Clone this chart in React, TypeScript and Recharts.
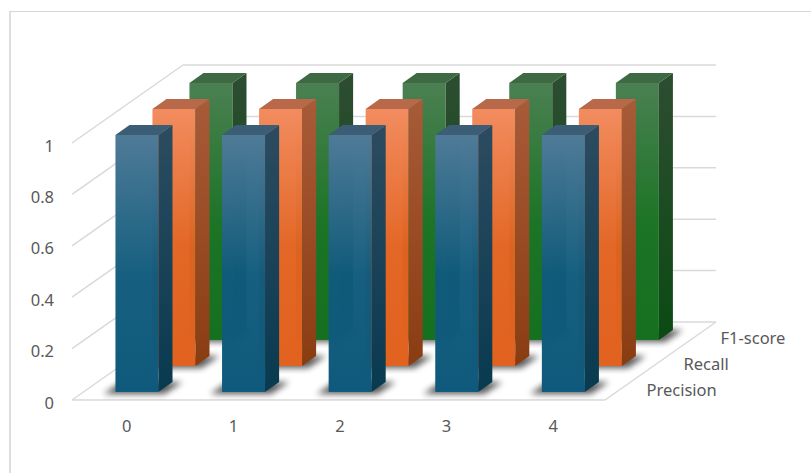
import React from "react";
import { BarChart, Bar, XAxis, YAxis, CartesianGrid } from "recharts";

const CLASSES = ["0", "1", "2", "3", "4"];
const SERIES = ["Precision", "Recall", "F1-score"];
const PRECISION = [1, 1, 1, 1, 1];
const RECALL = [1, 1, 1, 1, 1];
const F1_SCORE = [1, 1, 1, 1, 1];
const Y_TICKS = [0, 0.2, 0.4, 0.6, 0.8, 1];

const data = CLASSES.map((c, i) => ({
  name: c,
  Precision: PRECISION[i],
  Recall: RECALL[i],
  "F1-score": F1_SCORE[i],
}));

const W = 811;
const H = 473;
const MARGIN = { top: 143, right: 206, bottom: 0, left: 0 };
const Y_AXIS_W = 72;
const X_AXIS_H = 73;
const PLOT_LEFT = MARGIN.left + Y_AXIS_W;
const PLOT_BOTTOM = H - MARGIN.bottom - X_AXIS_H;

// depth of the floor, split into one row per series
const DEPTH_DX = 111;
const DEPTH_DY = -78;
const ROW_DX = DEPTH_DX / SERIES.length;
const ROW_DY = DEPTH_DY / SERIES.length;
const BAR_FRONT = 0.31;
const BAR_BACK = 0.69;

const WALL = "#d9d9d9";
const TEXT = "#595959";
const FONT = "'Noto Sans', sans-serif";
const FONT_SIZE = 16.5;

const PALETTE = [
  { front: ["#4f7b97", "#0f5a7c"], side: ["#2c4b60", "#083a50"], top: "#3b5d75" },
  { front: ["#f28c5f", "#e2621f"], side: ["#a85b38", "#8a3c11"], top: "#b8694a" },
  { front: ["#4b8052", "#15701f"], side: ["#2d4d31", "#0b4a13"], top: "#3d6943" },
];

function Prism(props: any) {
  const { x, y, width, height, row } = props;
  if (width == null || height == null) return null;
  const x0 = x + (row + BAR_FRONT) * ROW_DX;
  const y0 = y + (row + BAR_FRONT) * ROW_DY;
  const sdx = (BAR_BACK - BAR_FRONT) * ROW_DX;
  const sdy = (BAR_BACK - BAR_FRONT) * ROW_DY;
  const yb = y0 + height;
  const shadow = [
    [x0 - 12, yb + 2],
    [x0 + width + 6, yb + 2],
    [x0 + width + sdx + 10, yb + sdy],
    [x0 + sdx - 8, yb + sdy],
  ]
    .map((p) => p.join(","))
    .join(" ");
  const side = [
    [x0 + width, y0],
    [x0 + width + sdx, y0 + sdy],
    [x0 + width + sdx, yb + sdy],
    [x0 + width, yb],
  ]
    .map((p) => p.join(","))
    .join(" ");
  const top = [
    [x0, y0],
    [x0 + sdx, y0 + sdy],
    [x0 + width + sdx, y0 + sdy],
    [x0 + width, y0],
  ]
    .map((p) => p.join(","))
    .join(" ");
  return (
    <g>
      <polygon points={shadow} fill="#000" opacity={0.65} filter="url(#barShadow)" />
      <rect x={x0} y={y0} width={width} height={height} fill={`url(#front${row})`} />
      <polygon points={side} fill={`url(#side${row})`} />
      <polygon points={top} fill={PALETTE[row].top} />
    </g>
  );
}

function wallLine(props: any) {
  const { x1, y1, x2, index } = props;
  const bx = x1 + DEPTH_DX;
  const by = y1 + DEPTH_DY;
  const isFloor = Math.abs(y1 - PLOT_BOTTOM) < 1;
  return (
    <g key={`wall-${index}`}>
      <line x1={x1} y1={y1} x2={bx} y2={by} stroke={WALL} strokeWidth={1.5} />
      <line x1={bx} y1={by} x2={x2 + DEPTH_DX} y2={by} stroke={WALL} strokeWidth={1.5} />
      {isFloor && (
        <g>
          <line x1={x1} y1={y1} x2={x2} y2={y1} stroke={WALL} strokeWidth={1.5} />
          <line x1={x2} y1={y1} x2={x2 + DEPTH_DX} y2={by} stroke={WALL} strokeWidth={1.5} />
          {SERIES.map((s, i) => (
            <text
              key={s}
              x={x2 + (i + 0.5) * ROW_DX + 23}
              y={y1 + (i + 0.5) * ROW_DY + 2}
              fill={TEXT}
              fontSize={FONT_SIZE}
              fontFamily={FONT}
              dominantBaseline="central"
            >
              {s}
            </text>
          ))}
        </g>
      )}
    </g>
  );
}

function YTick(props: any) {
  const { y, payload } = props;
  return (
    <text
      x={PLOT_LEFT - 18}
      y={y + 2}
      textAnchor="end"
      dominantBaseline="central"
      fill={TEXT}
      fontSize={FONT_SIZE}
      fontFamily={FONT}
    >
      {payload.value}
    </text>
  );
}

function XTick(props: any) {
  const { x, payload } = props;
  return (
    <text
      x={x + 1.5}
      y={PLOT_BOTTOM + 25}
      textAnchor="middle"
      dominantBaseline="central"
      fill={TEXT}
      fontSize={FONT_SIZE}
      fontFamily={FONT}
    >
      {payload.value}
    </text>
  );
}

export default function App() {
  return (
    <div style={{ position: "absolute", left: 0, top: 0, width: W, height: H, background: "#fff", overflow: "hidden" }}>
      <div
        style={{
          position: "absolute",
          left: 9,
          top: 11,
          width: W,
          height: H,
          borderLeft: "2px solid #dedede",
          borderTop: "1px solid #d6d6d6",
        }}
      />
      <svg width={0} height={0} style={{ position: "absolute" }}>
        <defs>
          {PALETTE.map((p, i) => (
            <React.Fragment key={i}>
              <linearGradient id={`front${i}`} x1="0" y1="0" x2="0" y2="1">
                <stop offset="0%" stopColor={p.front[0]} />
                <stop offset="55%" stopColor={p.front[1]} stopOpacity={0.97} />
                <stop offset="100%" stopColor={p.front[1]} />
              </linearGradient>
              <linearGradient id={`side${i}`} x1="0" y1="0" x2="0" y2="1">
                <stop offset="0%" stopColor={p.side[0]} />
                <stop offset="100%" stopColor={p.side[1]} />
              </linearGradient>
            </React.Fragment>
          ))}
          <filter id="barShadow" x="-50%" y="-50%" width="200%" height="200%">
            <feGaussianBlur stdDeviation="3" />
          </filter>
        </defs>
      </svg>
      <div style={{ position: "absolute", left: 0, top: 0 }}>
        <BarChart width={W} height={H} data={data} margin={MARGIN} barCategoryGap="30%">
          <CartesianGrid vertical={false} horizontal={wallLine} />
          <XAxis
            dataKey="name"
            height={X_AXIS_H}
            axisLine={false}
            tickLine={false}
            tick={<XTick />}
            interval={0}
          />
          <XAxis xAxisId="recall" dataKey="name" hide />
          <XAxis xAxisId="f1" dataKey="name" hide />
          <YAxis
            width={Y_AXIS_W}
            domain={[0, 1]}
            ticks={Y_TICKS}
            axisLine={false}
            tickLine={false}
            tick={<YTick />}
            interval={0}
          />
          <Bar
            dataKey="F1-score"
            xAxisId="f1"
            isAnimationActive={false}
            shape={(p: any) => <Prism {...p} row={2} />}
          />
          <Bar
            dataKey="Recall"
            xAxisId="recall"
            isAnimationActive={false}
            shape={(p: any) => <Prism {...p} row={1} />}
          />
          <Bar
            dataKey="Precision"
            isAnimationActive={false}
            shape={(p: any) => <Prism {...p} row={0} />}
          />
        </BarChart>
      </div>
    </div>
  );
}
